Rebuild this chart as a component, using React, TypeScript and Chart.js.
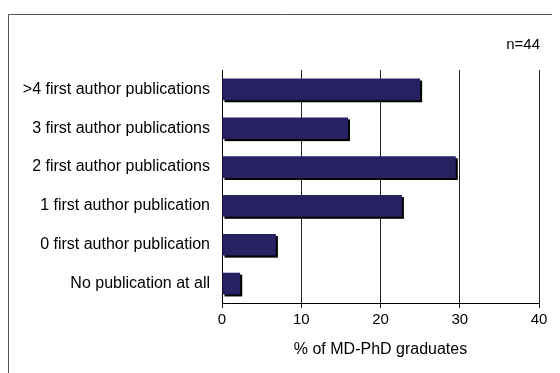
import React, { useEffect, useRef } from "react";
import { Chart, registerables } from "chart.js";

Chart.register(...registerables);

const categories = [
  ">4 first author publications",
  "3 first author publications",
  "2 first author publications",
  "1 first author publication",
  "0 first author publication",
  "No publication at all",
];
const percentValues = [25.0, 15.9, 29.5, 22.7, 6.8, 2.3];
const xTickValues = [0, 10, 20, 30, 40];
const axisTitle = "% of MD-PhD graduates";
const noteText = "n=44";

const FONT = "'Liberation Sans', Arial, Helvetica, sans-serif";

const shadowPlugin = {
  id: "barShadow",
  beforeDatasetsDraw(chart: any) {
    const ctx = chart.ctx;
    const meta = chart.getDatasetMeta(0);
    ctx.save();
    ctx.fillStyle = "#000000";
    meta.data.forEach((bar: any) => {
      const p = bar.getProps(["x", "y", "base", "height"], true);
      const left = Math.min(p.base, p.x);
      const w = Math.abs(p.x - p.base);
      ctx.fillRect(left + 2, p.y - p.height / 2 + 2, w, p.height);
    });
    ctx.restore();
  },
};

const framePlugin = {
  id: "frameAndNote",
  afterDraw(chart: any) {
    const ctx = chart.ctx;
    ctx.save();
    ctx.strokeStyle = "#555555";
    ctx.lineWidth = 1;
    ctx.beginPath();
    ctx.moveTo(0.5, 2000);
    ctx.lineTo(0.5, 6.5);
    ctx.lineTo(2000, 6.5);
    ctx.stroke();
    ctx.fillStyle = "#000000";
    ctx.font = "15px " + FONT;
    ctx.textAlign = "right";
    ctx.textBaseline = "middle";
    ctx.fillText(noteText, chart.chartArea.right + 1, 37);
    ctx.restore();
  },
};

export default function App() {
  const ref = useRef<HTMLCanvasElement | null>(null);
  useEffect(() => {
    if (!ref.current) return;
    const chart = new Chart(ref.current, {
      type: "bar",
      data: {
        labels: categories,
        datasets: [
          {
            data: percentValues,
            backgroundColor: "#262262",
            borderWidth: 0,
            barPercentage: 0.56,
            categoryPercentage: 1,
          },
        ],
      },
      plugins: [shadowPlugin, framePlugin],
      options: {
        indexAxis: "y",
        animation: false,
        responsive: false,
        maintainAspectRatio: false,
        layout: { padding: { top: 62, right: 21, left: 0, bottom: 0 } },
        plugins: {
          legend: { display: false },
          tooltip: { enabled: false },
          title: { display: false },
        },
        scales: {
          x: {
            type: "linear",
            min: 0,
            max: 40,
            afterBuildTicks(scale: any) {
              scale.ticks = xTickValues.map((v) => ({ value: v }));
            },
            afterFit(scale: any) {
              scale.height = 70;
            },
            grid: {
              display: true,
              color: "#222222",
              lineWidth: 1,
              drawTicks: true,
              tickLength: 5,
              tickColor: "#222222",
            },
            border: { display: true, color: "#000000", width: 1 },
            ticks: {
              color: "#000000",
              font: { family: FONT, size: 15 },
              padding: 3,
              maxRotation: 0,
            },
            title: {
              display: true,
              text: axisTitle,
              color: "#000000",
              font: { family: FONT, size: 16 },
              padding: { top: 4, bottom: 14 },
            },
          },
          y: {
            afterFit(scale: any) {
              scale.width = 214;
            },
            grid: { display: false, drawTicks: false },
            border: { display: true, color: "#000000", width: 1 },
            ticks: {
              color: "#000000",
              font: { family: FONT, size: 16 },
              padding: 12,
              autoSkip: false,
            },
          },
        },
      },
    });
    return () => chart.destroy();
  }, []);
  return (
    <canvas
      ref={ref}
      width={552}
      height={365}
      style={{ display: "block", width: 552, height: 365 }}
    />
  );
}
